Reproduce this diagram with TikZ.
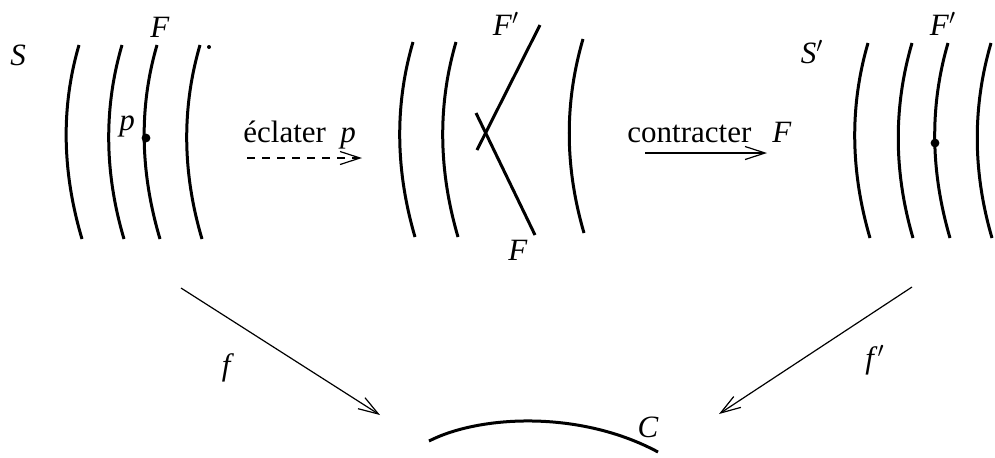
\documentclass[tikz,border=0pt]{standalone}
\usepackage{fontspec}
\setmainfont{Liberation Serif}
\usetikzlibrary{arrows.meta,positioning}

\begin{document}
\begin{tikzpicture}[x=0.5pt, y=-0.5pt,
    font=\fontsize{15.5}{18}\selectfont,
    fibre/.style={line width=1.5pt},
    fleche/.style={line width=0.6pt, -{Straight Barb[length=10pt,width=6.5pt,line width=0.6pt]}}]
    \useasboundingbox (0,0) rectangle (995,457);

    % fibres de S
    \foreach \xa/\xb in {79/82, 122/124, 157/160, 200/202}
        \draw[fibre] (\xa,45) .. controls (\xa-19,110) and (\xb-19,175) .. (\xb,239);
    \fill (209,47) circle (1pt);
    \fill (146,138) circle (2.2pt);
    \node[anchor=base] (S) at (18,65) {\textit{S}};
    \node[anchor=base] (F1) at (160,37) {\textit{F}};
    \node[anchor=base] (p0) at (127,130) {\textit{p}};

    % surface éclatée
    \foreach \xa/\xb/\ya/\yb in {413/415/42/237, 456/458/42/237, 583/584/39/233}
        \draw[fibre] (\xa,\ya) .. controls (\xa-19,\ya+65) and (\xb-19,\yb-65) .. (\xb,\yb);
    \coordinate (Fp1) at (540,25);
    \coordinate (Fp2) at (477,150);
    \coordinate (Fa1) at (476,113);
    \coordinate (Fa2) at (535,235);
    \draw[fibre] (Fp1) -- (Fp2);
    \draw[fibre] (Fa1) -- (Fa2);
    \node[anchor=base] (F2) at (506,35) {\textit{F}$'$};
    \node[anchor=base] (F3) at (518,260) {\textit{F}};

    % fibres de S'
    \foreach \xa/\xb in {868/870, 912/913, 948/950, 991/992}
        \draw[fibre] (\xa,43) .. controls (\xa-19,108) and (\xb-19,173) .. (\xb,238);
    \fill (935,143) circle (2.2pt);
    \node[anchor=base] (S2) at (812,63) {\textit{S}$'$};
    \node[anchor=base] (F4) at (943,35) {\textit{F}$'$};

    % flèches du haut
    \node[anchor=base west, inner sep=0pt] (ecl) at (243,142) {éclater};
    \node[anchor=base] (p1) at (348,142) {\textit{p}};
    \coordinate (e1) at (247,158);
    \coordinate (e2) at (362,158);
    \draw[fleche, dash pattern=on 4pt off 3.5pt] (e1) -- (e2);

    \node[anchor=base west, inner sep=0pt] (con) at (627,142) {contracter};
    \node[anchor=base] (F5) at (782,142) {\textit{F}};
    \coordinate (c1) at (645,153);
    \coordinate (c2) at (767,153);
    \draw[fleche] (c1) -- (c2);

    % la courbe C
    \coordinate (C1) at (429,441);
    \coordinate (C2) at (658,452);
    \draw[fibre] (C1) .. controls (480,415) and (580,410) .. (C2);
    \node[anchor=base] (C) at (648,437) {\textit{C}};

    % morphismes vers C
    \coordinate (f1) at (181,288);
    \coordinate (f2) at (380,415);
    \draw[fleche] (f1) -- (f2);
    \node (f) at (228,368) {\textit{f}};
    \coordinate (g1) at (912,287);
    \coordinate (g2) at (719,414);
    \draw[fleche] (g1) -- (g2);
    \node (fp) at (875,360) {\textit{f}$'$};
\end{tikzpicture}
\end{document}
